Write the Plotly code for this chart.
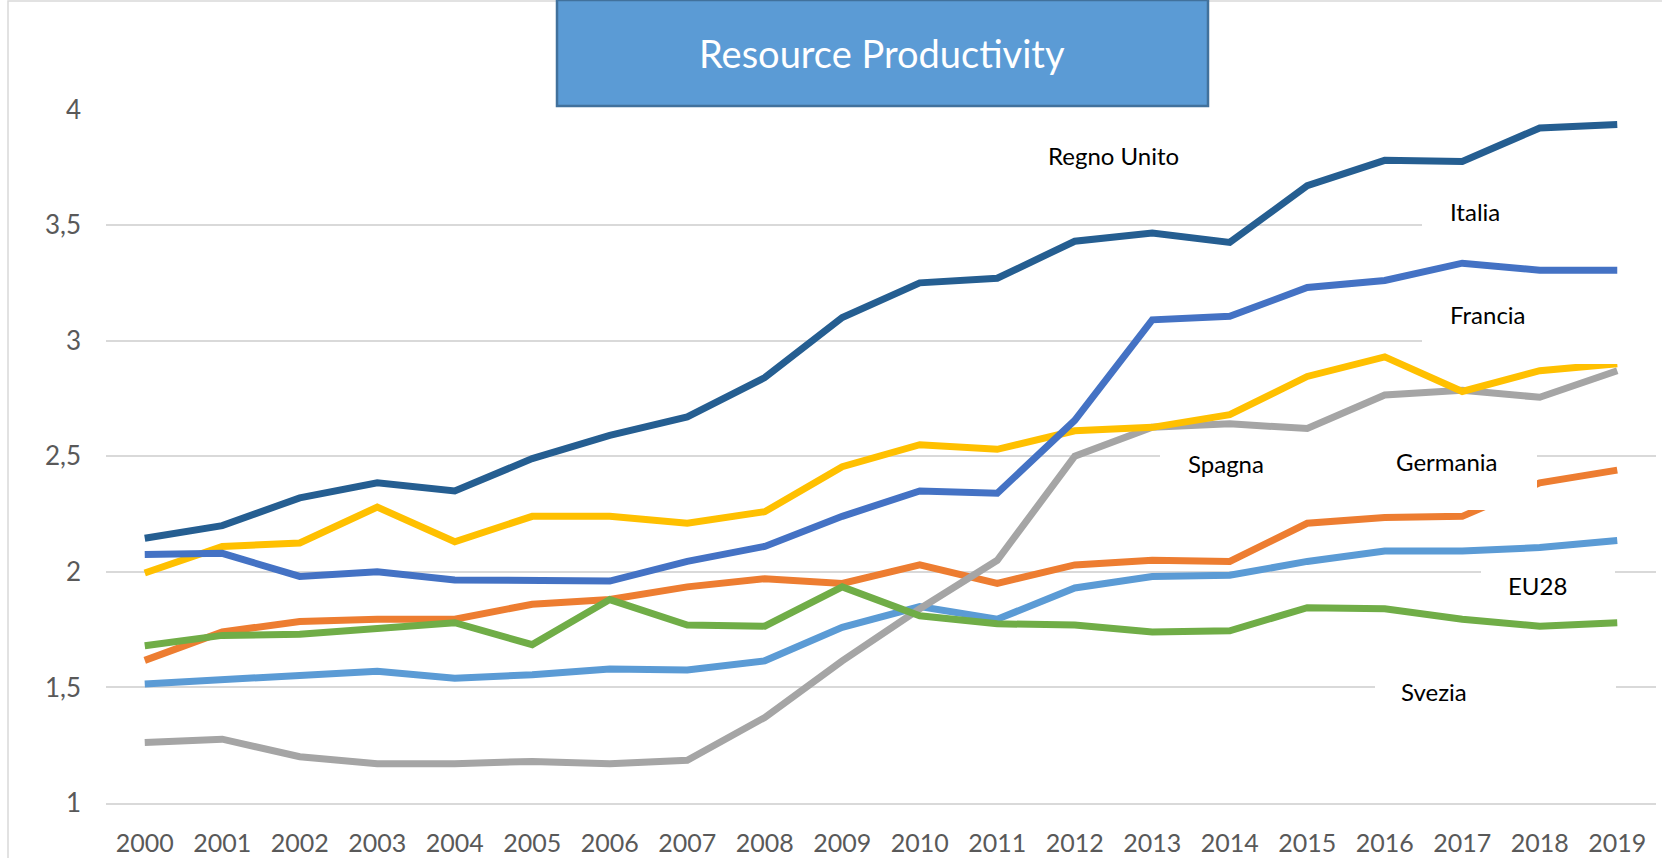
import plotly.graph_objects as go

years = [str(y) for y in range(2000, 2020)]

eu28 = [1.515, 1.535, 1.555, 1.57, 1.54, 1.555, 1.58, 1.575, 1.615, 1.76,
        1.85, 1.795, 1.93, 1.98, 1.985, 2.045, 2.09, 2.09, 2.105, 2.135]
germania = [1.617, 1.74, 1.785, 1.795, 1.795, 1.86, 1.88, 1.935, 1.97, 1.95,
            2.03, 1.95, 2.03, 2.05, 2.045, 2.21, 2.235, 2.24, 2.385, 2.44]
spagna = [1.262, 1.276, 1.20, 1.17, 1.17, 1.18, 1.17, 1.185, 1.37, 1.615,
          1.84, 2.05, 2.50, 2.625, 2.64, 2.62, 2.765, 2.785, 2.755, 2.87]
francia = [1.995, 2.11, 2.125, 2.28, 2.13, 2.24, 2.24, 2.21, 2.26, 2.455,
           2.55, 2.53, 2.61, 2.625, 2.68, 2.845, 2.93, 2.78, 2.87, 2.90]
italia = [2.075, 2.08, 1.98, 2.00, 1.965, 1.965, 1.96, 2.045, 2.11, 2.24,
          2.35, 2.34, 2.655, 3.09, 3.105, 3.23, 3.26, 3.335, 3.305, 3.305]
svezia = [1.68, 1.725, 1.73, 1.755, 1.78, 1.685, 1.88, 1.77, 1.765, 1.935,
          1.81, 1.775, 1.77, 1.74, 1.745, 1.845, 1.84, 1.795, 1.765, 1.78]
regno_unito = [2.145, 2.20, 2.32, 2.385, 2.35, 2.49, 2.59, 2.67, 2.84, 3.10,
               3.25, 3.27, 3.43, 3.465, 3.425, 3.67, 3.78, 3.775, 3.92, 3.935]

series_names = ["EU28", "Germania", "Spagna", "Francia", "Italia", "Svezia", "Regno Unito"]
series_values = [eu28, germania, spagna, francia, italia, svezia, regno_unito]
series_colors = ["#5B9BD5", "#ED7D31", "#A5A5A5", "#FFC000", "#4472C4", "#70AD47", "#255E91"]

y_tickvals = [1, 1.5, 2, 2.5, 3, 3.5, 4]
y_ticktext = ["1", "1,5", "2", "2,5", "3", "3,5", "4"]

title_text = "Resource Productivity"

W, H = 1662, 858
L, R, T, B = 106, 6, 109, 55
PW, PH = W - L - R, H - T - B
FONT = "Lato"


def px(x):
    return (x - L) / PW


def py(y):
    return (H - B - y) / PH


fig = go.Figure()
for name, vals, col in zip(series_names, series_values, series_colors):
    fig.add_trace(go.Scatter(x=years, y=vals, name=name, mode="lines",
                             line=dict(color=col, width=7),
                             showlegend=False, hoverinfo="x+y+name"))

shapes = []
# outer chart border
shapes.append(dict(type="rect", xref="paper", yref="paper",
                   x0=px(8), x1=px(1700), y0=py(900), y1=py(1),
                   line=dict(color="#D9D9D9", width=1.5), fillcolor="rgba(0,0,0,0)",
                   layer="below"))
# white label boxes (as in the original, they hide lines behind the labels)
label_boxes = [
    (1422, 1662, 190, 248),   # Italia
    (1422, 1662, 288, 364),   # Francia
    (1160, 1330, 438, 490),   # Spagna
    (1330, 1537, 438, 510),   # Germania
    (1481, 1615, 559, 612),   # EU28
    (1375, 1616, 670, 712),   # Svezia
]
for x0, x1, y0, y1 in label_boxes:
    shapes.append(dict(type="rect", xref="paper", yref="paper",
                       x0=px(x0), x1=px(x1), y0=py(y1), y1=py(y0),
                       line=dict(width=0), fillcolor="white", layer="above"))
# title box
shapes.append(dict(type="rect", xref="paper", yref="paper",
                   x0=px(557), x1=px(1208), y0=py(106), y1=py(0),
                   line=dict(color="#41719C", width=2.5), fillcolor="#5B9BD5",
                   layer="above"))

annotations = [dict(xref="paper", yref="paper", x=px(882), y=py(53),
                    text=title_text, showarrow=False,
                    font=dict(family=FONT, size=38, color="white"),
                    xanchor="center", yanchor="middle")]
labels = [
    ("Regno Unito", 1113, 156),
    ("Italia", 1475, 211),
    ("Francia", 1488, 314),
    ("Spagna", 1226, 463),
    ("Germania", 1447, 462),
    ("EU28", 1537, 585),
    ("Svezia", 1434, 691),
]
for txt, x, y in labels:
    annotations.append(dict(xref="paper", yref="paper", x=px(x), y=py(y),
                            text=txt, showarrow=False,
                            font=dict(family=FONT, size=24, color="black"),
                            xanchor="center", yanchor="middle"))

fig.update_layout(
    width=W, height=H,
    margin=dict(l=L, r=R, t=T, b=B, pad=0, autoexpand=False),
    paper_bgcolor="white", plot_bgcolor="white",
    font=dict(family=FONT, color="#595959"),
    shapes=shapes, annotations=annotations,
    xaxis=dict(type="category", range=[-0.5, 19.5], showgrid=False,
               showline=True, linecolor="#D9D9D9", linewidth=2,
               ticks="", tickfont=dict(size=25, color="#595959"),
               ticklabelstandoff=17, fixedrange=True, automargin=False),
    yaxis=dict(range=[1, 4.002], tickvals=y_tickvals, ticktext=y_ticktext,
               showgrid=True, gridcolor="#D9D9D9", gridwidth=2,
               zeroline=False, showline=False, ticks="",
               tickfont=dict(size=26, color="#595959"),
               ticklabelstandoff=24, fixedrange=True, automargin=False),
)

fig.write_html("out.html", config={"displayModeBar": False},
               post_script="document.body.style.margin='0';document.body.style.overflow='hidden';")
